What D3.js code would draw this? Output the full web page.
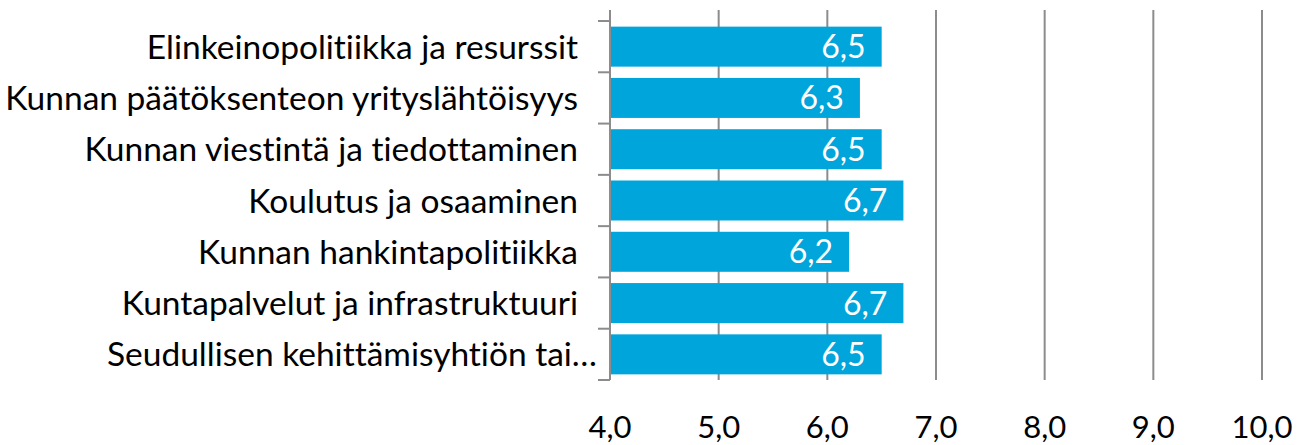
<!DOCTYPE html>
<html>
<head>
<meta charset="utf-8">
<script src="https://cdn.jsdelivr.net/npm/d3@7"></script>
<style>
  body { margin: 0; background: #fff; }
  text { font-family: Lato, "Open Sans", sans-serif; font-variant-ligatures: none; }
</style>
</head>
<body>
<div id="container"></div>
<script>
const categories = [
  "Elinkeinopolitiikka ja resurssit",
  "Kunnan päätöksenteon yrityslähtöisyys",
  "Kunnan viestintä ja tiedottaminen",
  "Koulutus ja osaaminen",
  "Kunnan hankintapolitiikka",
  "Kuntapalvelut ja infrastruktuuri",
  "Seudullisen kehittämisyhtiön tai…"
];
const values = [6.5, 6.3, 6.5, 6.7, 6.2, 6.7, 6.5];
const tickValues = [4, 5, 6, 7, 8, 9, 10];

const width = 1306, height = 445;
const plotLeft = 610, plotRight = 1262, plotTop = 21, plotBottom = 380;
const fmt = d => d3.format(".1f")(d).replace(".", ",");

const svg = d3.select("#container").append("svg")
    .attr("width", width)
    .attr("height", height);

const x = d3.scaleLinear().domain([4, 10]).range([plotLeft, plotRight]);
const y = d3.scaleBand().domain(categories).range([plotTop, plotBottom]).paddingInner(0.22).paddingOuter(0.11);

// vertical gridlines
svg.append("g")
    .selectAll("line")
    .data(tickValues)
    .join("line")
    .attr("x1", d => x(d)).attr("x2", d => x(d))
    .attr("y1", 10).attr("y2", plotBottom)
    .attr("stroke", "#8c8c8c")
    .attr("stroke-width", 2);

// x tick labels
svg.append("g")
    .selectAll("text")
    .data(tickValues)
    .join("text")
    .attr("x", d => x(d))
    .attr("y", 438)
    .attr("text-anchor", "middle")
    .style("font-size", "31px")
    .attr("fill", "#000")
    .text(fmt);

// bars
svg.append("g")
    .selectAll("rect")
    .data(values)
    .join("rect")
    .attr("x", x(4))
    .attr("y", (d, i) => y(categories[i]))
    .attr("width", d => x(d) - x(4))
    .attr("height", y.bandwidth())
    .attr("fill", "#00a5db");

// value labels
svg.append("g")
    .selectAll("text")
    .data(values)
    .join("text")
    .attr("x", d => x(d) - 16)
    .attr("y", (d, i) => y(categories[i]) + y.bandwidth() / 2)
    .attr("dy", "0.36em")
    .attr("text-anchor", "end")
    .attr("fill", "#fff")
    .style("font-size", "32px")
    .text(fmt);

// y axis line and category ticks
const step = y.step();
const yAxis = svg.append("g");
yAxis.append("line")
    .attr("x1", plotLeft).attr("x2", plotLeft)
    .attr("y1", plotTop).attr("y2", plotBottom)
    .attr("stroke", "#8c8c8c").attr("stroke-width", 2);
yAxis.selectAll("line.tick")
    .data(d3.range(categories.length + 1))
    .join("line")
    .attr("class", "tick")
    .attr("x1", plotLeft - 12).attr("x2", plotLeft)
    .attr("y1", i => plotTop + i * step).attr("y2", i => plotTop + i * step)
    .attr("stroke", "#8c8c8c").attr("stroke-width", 2);

// category labels
svg.append("g")
    .selectAll("text")
    .data(categories)
    .join("text")
    .attr("x", (d, i) => i === categories.length - 1 ? 597 : 578)
    .attr("y", d => y(d) + y.bandwidth() / 2)
    .attr("dy", "0.36em")
    .attr("text-anchor", "end")
    .attr("fill", "#000")
    .style("font-size", "33.5px")
    .text(d => d);
</script>
</body>
</html>
